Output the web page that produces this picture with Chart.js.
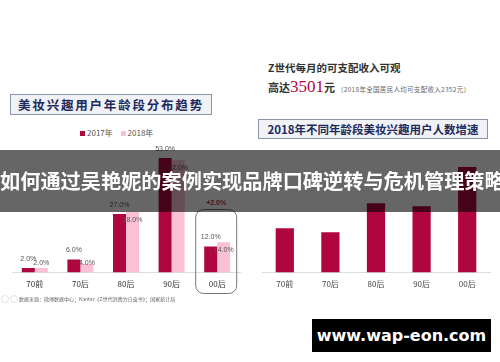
<!DOCTYPE html>
<html>
<head>
<meta charset="utf-8">
<script src="https://cdn.jsdelivr.net/npm/chart.js@4.4.0/dist/chart.umd.min.js"></script>
<style>
  body { margin: 0; background: #fff; }
  #page { position: relative; width: 500px; height: 362px; overflow: hidden; background: #fff; font-family: "Noto Sans CJK SC", "Noto Sans", sans-serif; }
  .abs { position: absolute; white-space: nowrap; }
  .titlebox { position: absolute; background: #f1f2f6; border: 1px solid #8c93ad; box-sizing: border-box; color: #1f2b5c; font-weight: bold; text-align: center; white-space: nowrap; }
</style>
</head>
<body>
<div id="page">
  <div class="titlebox" style="left:10px; top:94px; width:202px; height:21px; line-height:19px; font-size:12.5px; letter-spacing:1.8px;">美妆兴趣用户年龄段分布趋势</div>

  <div class="abs" style="left:80px; top:127px; font-size:8px; color:#555; line-height:12px;">
    <span style="display:inline-block; width:5px; height:5px; background:#b0063f; margin-right:2px;"></span>2017年
    <span style="display:inline-block; width:5px; height:5px; background:#f9c0d6; margin:0 2px 0 6px;"></span>2018年
  </div>

  <div class="abs" style="left:268px; top:60px; font-size:10.5px; font-weight:bold; color:#333; line-height:16px;">Z世代每月的可支配收入可观</div>
  <div class="abs" style="left:268px; top:77px; font-size:11px; font-weight:bold; color:#333; line-height:20px;">高达<span style="font-family:'Liberation Serif',serif; font-size:17px; color:#b0063f; font-weight:normal;">3501</span>元<span style="font-size:6.5px; font-weight:normal; color:#666; letter-spacing:0.3px; margin-left:2px;">（2018年全国居民人均可支配收入2352元）</span></div>

  <div class="titlebox" style="left:258px; top:119px; width:230px; height:20px; line-height:18px; font-size:11.5px;">2018年不同年龄段美妆兴趣用户人数增速</div>

  <div class="abs" style="left:0; top:140px;"><canvas id="ageChart" width="250" height="160"></canvas></div>
  <div class="abs" style="left:250px; top:140px;"><canvas id="growthChart" width="250" height="160"></canvas></div>

  <div class="abs" style="left:1px; top:295px; width:6px; height:6px; border-radius:50%; border:1px solid #e2e2e2;"></div>
  <div class="abs" style="left:10px; top:295px; width:6px; height:6px; border-radius:50%; border:1px solid #e2e2e2;"></div>
  <div class="abs" style="left:19px; top:296px; font-size:5px; color:#666; line-height:6px;">数据来源：微博数据中心；Kantar《Z世代消费力白皮书》；国家统计局</div>

  <div class="abs" style="left:0; top:150px; width:500px; height:62px; background:rgba(0,0,0,0.6); color:#fff; font-weight:bold; font-size:20.2px; line-height:62px; text-align:center;">如何通过吴艳妮的案例实现品牌口碑逆转与危机管理策略</div>

  <div class="abs" style="left:312px; top:319px; width:179px; height:33px; background:#000; color:#fff; font-family:'DejaVu Sans',sans-serif; font-weight:bold; font-size:16px; line-height:33px; text-align:center;">www.wap-eon.com</div>
</div>

<script>
const ageGroups = ['70前', '70后', '80后', '90后', '00后'];
const share2017 = [2, 6, 27, 53, 12];
const share2018 = [2, 4, 28, 52, 14];
const shareLabels2017 = ['2.0%', '6.0%', '27.0%', '53.0%', '12.0%'];
const shareLabels2018 = ['2.0%', '4.0%', '28.0%', '52.0%', '14.0%'];
const zChange = '+2.0%';

// no value labels on the right chart, heights
const growthRate = [44, 40, 69, 66, 105];

const crimson = '#b0063f';
const pink = '#f9c0d6';

const valueLabels = {
    id: 'valueLabels',
    afterDatasetsDraw(chart) {
        const ctx = chart.ctx;
        const base = chart.scales.y.getPixelForValue(0);
        ctx.save();
        ctx.font = '7px "Liberation Sans", sans-serif';
        ctx.fillStyle = '#555';
        ctx.textAlign = 'center';
        ctx.textBaseline = 'middle';
        chart.getDatasetMeta(0).data.forEach((bar, i) => {
            ctx.fillText(shareLabels2017[i], bar.x, bar.y - 9);
        });
        chart.getDatasetMeta(1).data.forEach((bar, i) => {
            ctx.fillText(shareLabels2018[i], bar.x, Math.min(bar.y + 8, base - 9));
        });

        // highlight box round 00后
        const cx = chart.scales.x.getPixelForValue(4);
        ctx.strokeStyle = '#777';
        ctx.lineWidth = 1;
        ctx.beginPath();
        ctx.roundRect(cx - 21.5, 69.5, 41, 84, 8);
        ctx.stroke();
        ctx.font = 'bold 7px "Liberation Sans", sans-serif';
        ctx.fillStyle = '#c0304a';
        ctx.fillText(zChange, cx - 1, 63);
        ctx.restore();
    }
};

const ageChart = document.getElementById('ageChart');

new Chart(ageChart, {
    type: 'bar',
    data: {
        labels: ageGroups,
        datasets: [{
            label: '2017年',
            data: share2017,
            backgroundColor: crimson,
            barPercentage: 1,
            categoryPercentage: 0.57
        }, {
            label: '2018年',
            data: share2018,
            backgroundColor: pink,
            barPercentage: 1,
            categoryPercentage: 0.57
        }]
    },
    options: {
        responsive: false,
        animation: false,
        layout: { padding: { left: 12, right: 10, top: 10, bottom: 4 } },
        plugins: {
            legend: { display: false },
            tooltip: { enabled: false }
        },
        scales: {
            x: {
                grid: { display: false, drawTicks: false },
                border: { display: true, color: '#ddd' },
                ticks: { color: '#333', padding: 7, font: { size: 8, family: '"Noto Sans CJK SC", sans-serif' } }
            },
            y: { display: false, min: 0, max: 56.7 }
        }
    },
    plugins: [valueLabels]
});

const growthChart = document.getElementById('growthChart');

new Chart(growthChart, {
    type: 'bar',
    data: {
        labels: ageGroups,
        datasets: [{
            label: '增速',
            data: growthRate,
            backgroundColor: crimson,
            barPercentage: 1,
            categoryPercentage: 0.4
        }]
    },
    options: {
        responsive: false,
        animation: false,
        layout: { padding: { left: 12, right: 10, top: 10, bottom: 4 } },
        plugins: {
            legend: { display: false },
            tooltip: { enabled: false }
        },
        scales: {
            x: {
                grid: { display: false, drawTicks: false },
                border: { display: true, color: '#ddd' },
                ticks: { color: '#444', padding: 7, font: { size: 8, family: '"Noto Sans CJK SC", sans-serif' } }
            },
            y: { display: false, min: 0, max: 122 }
        }
    }
});
</script>
</body>
</html>
